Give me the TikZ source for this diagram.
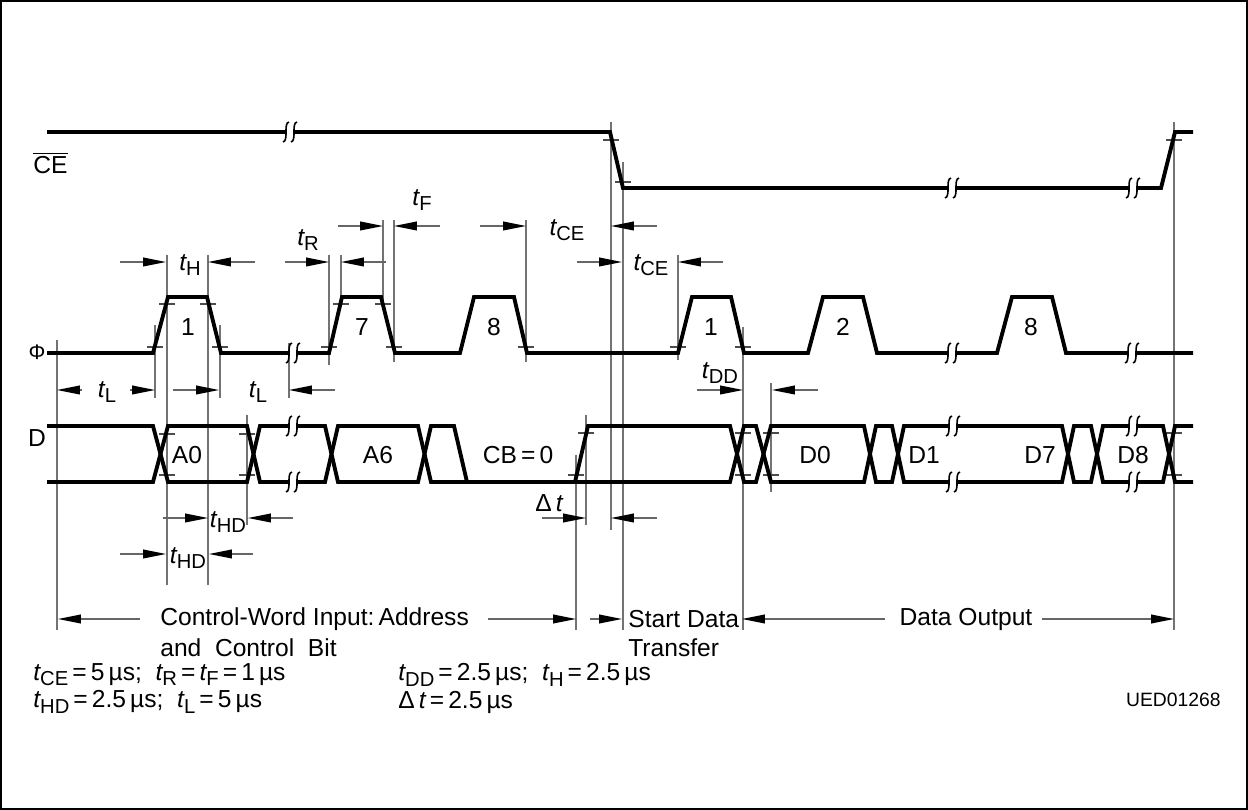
\documentclass[tikz,border=0pt]{standalone}
\usepackage{fontspec}
\setmainfont{Liberation Sans}
\usetikzlibrary{arrows.meta}

\tikzstyle{sig} = [line width=2.2pt, line join=miter]
\tikzstyle{guide} = [line width=0.7pt, black!55]
\tikzstyle{tick} = [line width=0.7pt, black!70]
\tikzstyle{dim} = [draw, line width=0.7pt, black!60, -{Triangle[length=13pt,width=5pt,color=black]}]
\tikzstyle{lbl} = [inner sep=0pt]

\newcommand\tsub[1]{{\itshape t}\raisebox{-0.4ex}{\fontsize{11.5}{12}\selectfont #1}}
\newcommand\brk[2]{%
  \fill[white] (#1-3.5,#2-3.5) rectangle (#1+3.5,#2+3.5);
  \draw[line width=0.9pt] (#1-1,#2-10) .. controls (#1-7,#2-9) and (#1-1,#2+9) .. (#1-7,#2+10);
  \draw[line width=0.9pt] (#1+7,#2-10) .. controls (#1+1,#2-9) and (#1+7,#2+9) .. (#1+1,#2+10);
}

\begin{document}
\begin{tikzpicture}[x=0.02cm, y=-0.02cm, font=\fontsize{14}{16}\selectfont]
    \useasboundingbox (0,0) rectangle (1248,810);
    \draw[line width=1pt] (1,1) rectangle (1247,809);

    % guide lines
    \foreach \x/\a/\b in {57/340/630, 155/325/398, 167/255/585, 208/255/585, 220/325/398,
        247/415/525, 289/343/398, 329/255/365, 341/255/300, 383/220/300, 394/220/362,
        526/220/362, 576/455/630, 586/415/525, 611/122/530, 623/162/630, 678/255/360,
        743/327/630, 771/383/492, 1174/122/630}
        \draw[guide] (\x,\a) -- (\x,\b);
    \foreach \x/\y in {611/140, 623/182, 1174/140, 167/304, 208/304, 155/347, 220/347,
        341/304, 383/304, 329/347, 394/347, 526/347, 678/347, 743/347, 167/434, 167/475,
        247/434, 247/475, 586/433, 576/475, 743/433, 743/475, 771/433, 771/475, 1174/433, 1174/475}
        \draw[tick] (\x-8,\y) -- (\x+8,\y);

    % signals
    \draw[sig] (47,132) -- (610,132) -- (623,188) -- (1161,188) -- (1175,132) -- (1193,132);
    \draw[sig] (47,353) -- (153,353) -- (168,297) -- (207,297) -- (221,353) -- (329,353)
        -- (342,297) -- (381,297) -- (395,353) -- (460,353) -- (474,297) -- (514,297)
        -- (527,353) -- (678,353) -- (692,297) -- (731,297) -- (744,353) -- (808,353)
        -- (823,297) -- (863,297) -- (877,353) -- (997,353) -- (1012,297) -- (1052,297)
        -- (1066,353) -- (1193,353);
    \draw[sig] (47,426) -- (153,426) -- (168,482) -- (247,482) -- (260,426) -- (325,426)
        -- (338,482) -- (418,482) -- (431,426) -- (454,426) -- (467,482) -- (575,482)
        -- (588,426) -- (730,426) -- (744,482) -- (756,482) -- (771,426) -- (864,426)
        -- (876,482) -- (892,482) -- (904,426) -- (1062,426) -- (1074,482) -- (1091,482)
        -- (1103,426) -- (1163,426) -- (1175,482) -- (1193,482);
    \draw[sig] (47,482) -- (153,482) -- (168,426) -- (247,426) -- (260,482) -- (325,482)
        -- (338,426) -- (418,426) -- (431,482) -- (730,482) -- (744,426) -- (756,426)
        -- (771,482) -- (864,482) -- (876,426) -- (892,426) -- (904,482) -- (1062,482)
        -- (1074,426) -- (1091,426) -- (1103,482) -- (1163,482) -- (1175,426) -- (1193,426);
    \foreach \x/\y in {290/132, 952/188, 1133/188, 293/353, 952/353, 1132/353,
        293/426, 293/482, 953/426, 953/482, 1133/426, 1133/482}
        {\brk{\x}{\y}}

    % signal names and contents
    \node[lbl, anchor=west] (CE) at (33,163) {$\overline{\mbox{CE}}$};
    \node[lbl, font=\fontsize{12}{14}\selectfont] (Phi) at (37,352) {Φ};
    \node[lbl] (D) at (37,438) {D};
    \foreach \x/\t [count=\i] in {188/1, 362/7, 494/8, 711/1, 843/2, 1031/8}
        \node[lbl] (pulse\i) at (\x,327) {\t};
    \foreach \x/\t [count=\i] in {187/A0, 378/A6, 518/CB\,=\,0, 815/D0, 924/D1, 1040/D7, 1133/D8}
        \node[lbl] (word\i) at (\x,455) {\t};

    % timing dimensions
    \path[dim] (120,262) -- (166,262);  \path[dim] (255,262) -- (208,262);
    \node[lbl] (tH) at (190,265) {\tsub{H}};
    \path[dim] (285,262) -- (329,262);  \path[dim] (386,262) -- (341,262);
    \node[lbl] (tR) at (308,240) {\tsub{R}};
    \path[dim] (338,226) -- (383,226);  \path[dim] (440,226) -- (394,226);
    \node[lbl] (tF) at (422,200) {\tsub{F}};
    \path[dim] (480,226) -- (526,226);  \path[dim] (657,226) -- (611,226);
    \node[lbl] (tCEa) at (567,230) {\tsub{CE}};
    \path[dim] (577,262) -- (622,262);  \path[dim] (723,262) -- (678,262);
    \node[lbl] (tCEb) at (651,265) {\tsub{CE}};
    \path[dim] (82,390) -- (57,390);  \path[dim] (130,390) -- (155,390);
    \node[lbl] (tLa) at (107,392) {\tsub{L}};
    \path[dim] (173,390) -- (219,390);  \path[dim] (335,390) -- (289,390);
    \node[lbl] (tLb) at (258,392) {\tsub{L}};
    \path[dim] (163,518) -- (208,518);  \path[dim] (293,518) -- (248,518);
    \node[lbl] (tHDa) at (228,522) {\tsub{HD}};
    \path[dim] (120,554) -- (166,554);  \path[dim] (253,554) -- (209,554);
    \node[lbl] (tHDb) at (188,558) {\tsub{HD}};
    \path[dim] (542,518) -- (586,518);  \path[dim] (657,518) -- (611,518);
    \node[lbl] (dt) at (549,503) {Δ\,{\itshape t}};
    \path[dim] (697,390) -- (743,390);  \path[dim] (818,390) -- (772,390);
    \node[lbl] (tDD) at (720,373) {\tsub{DD}};

    % phases
    \node[lbl, anchor=west] (cw) at (160,619) {Control-Word Input:\,Address};
    \node[lbl, anchor=west] (cwb) at (160,648) {and\ \ Control\ \ Bit};
    \path[dim] (140,619) -- (58,619);  \path[dim] (488,619) -- (576,619);
    \node[lbl, anchor=west] (sd) at (628,619) {Start Data};
    \node[lbl, anchor=west] (sdb) at (628,648) {Transfer};
    \path[dim] (590,619) -- (622,619);
    \node[lbl] (dout) at (966,619) {Data\ Output};
    \path[dim] (885,619) -- (742,619);  \path[dim] (1042,619) -- (1174,619);

    % legend
    \node[lbl, anchor=west] (legA) at (33,675) {\tsub{CE}\,=\,5\,µs; \ \tsub{R}\,=\,\tsub{F}\,=\,1\,µs};
    \node[lbl, anchor=west] (legB) at (398,675) {\tsub{DD}\,=\,2.5\,µs; \ \tsub{H}\,=\,2.5\,µs};
    \node[lbl, anchor=west] (legC) at (33,702) {\tsub{HD}\,=\,2.5\,µs; \ \tsub{L}\,=\,5\,µs};
    \node[lbl, anchor=west] (legD) at (398,702) {Δ\,{\itshape t}\,=\,2.5\,µs};
    \node[lbl, anchor=east, font=\fontsize{11}{13}\selectfont] (ued) at (1221,700) {UED01268};
\end{tikzpicture}
\end{document}
